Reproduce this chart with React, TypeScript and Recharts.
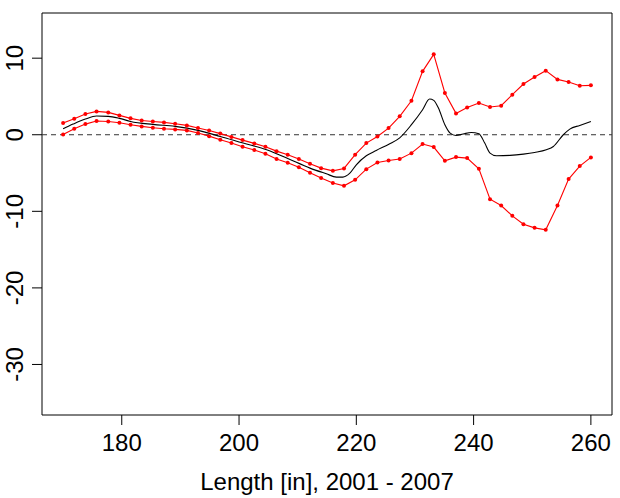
import React from "react";
import {
  LineChart,
  Line,
  XAxis,
  YAxis,
  ReferenceLine,
  ReferenceArea,
} from "recharts";

// positions along the length axis where the band was evaluated
const lengths = [
  170, 171.9, 173.8, 175.7, 177.7, 179.6, 181.5, 183.4, 185.3, 187.2, 189.1, 191.1,
  193.0, 194.9, 196.8, 198.7, 200.6, 202.6, 204.5, 206.4, 208.3, 210.2, 212.1, 214.0,
  216.0, 217.9, 219.8, 221.7, 223.6, 225.5, 227.4, 229.4, 231.3, 233.2, 235.1, 237.0,
  238.9, 240.9, 242.8, 244.7, 246.6, 248.5, 250.4, 252.3, 254.3, 256.2, 258.1, 260,
];

const upper = [
  1.53, 2.09, 2.7, 3.05, 2.92, 2.53, 2.14, 1.87, 1.74, 1.61, 1.44, 1.22,
  0.87, 0.55, 0.15, -0.28, -0.7, -1.13, -1.57, -2.14, -2.61, -3.18, -3.79, -4.36,
  -4.71, -4.4, -2.61, -1.09, -0.22, 0.87, 2.4, 4.44, 8.28, 10.5, 5.45, 2.79,
  3.57, 4.14, 3.62, 3.79, 5.23, 6.62, 7.54, 8.37, 7.23, 6.88, 6.4, 6.45,
];

const lower = [
  0.04, 0.78, 1.39, 1.79, 1.74, 1.57, 1.31, 1.09, 0.92, 0.78, 0.7, 0.57,
  0.22, -0.18, -0.65, -1.09, -1.57, -2.0, -2.48, -3.18, -3.66, -4.23, -4.97, -5.66,
  -6.31, -6.67, -5.88, -4.49, -3.62, -3.36, -3.16, -2.4, -1.22, -1.61, -3.4, -2.92,
  -3.05, -4.44, -8.41, -9.24, -10.59, -11.68, -12.16, -12.42, -9.24, -5.79, -4.09, -2.96,
];

// fitted curve, read at its turning points
const fitX = [
  170, 171.7, 173.8, 175.7, 177.7, 179.6, 181.5, 185.3, 189.1, 193.0, 196.8, 200.7,
  204.7, 208.4, 212.1, 214.9, 216.6, 217.7, 218.9, 220.0, 221.7, 223.4, 225.7, 227.4,
  229.4, 231.3, 232.5, 233.2, 234.0, 235.1, 236.0, 237.0, 238.2, 239.6, 240.9, 241.9,
  242.8, 243.9, 246.2, 248.5, 250.4, 252.4, 253.6, 255.3, 256.4, 258.1, 260,
];
const fitY = [
  0.78, 1.39, 2.05, 2.44, 2.4, 2.14, 1.74, 1.35, 1.09, 0.57, -0.22, -1.09,
  -1.96, -3.14, -4.36, -5.1, -5.53, -5.53, -5.01, -3.92, -2.75, -2.05, -1.18, -0.4,
  1.31, 3.27, 4.66, 4.49, 3.49, 1.31, 0.22, -0.09, 0.09, 0.3, 0.13, -1.09,
  -2.4, -2.75, -2.7, -2.53, -2.31, -1.96, -1.53, 0, 0.74, 1.22, 1.74,
];

const xTicks = [180, 200, 220, 240, 260];
const yTicks = [-30, -20, -10, 0, 10];

const xDomain = [166.4, 263.6];
const yDomain = [-36.6, 15.9];

const font = '"Liberation Sans", Arial, Helvetica, sans-serif';
const fontSize = 24;

const bandData = lengths.map((x, i) => ({ x, upper: upper[i], lower: lower[i] }));
const fitData = fitX.map((x, i) => ({ x, fit: fitY[i] }));

const XTick = (props: any) => {
  const { x, y, payload } = props;
  return (
    <text x={x} y={y + 24} textAnchor="middle" fontSize={fontSize} fontFamily={font} fill="#000">
      {payload.value}
    </text>
  );
};

const YTick = (props: any) => {
  const { y, payload } = props;
  const bx = 23;
  return (
    <text
      x={bx}
      y={y}
      transform={`rotate(-90, ${bx}, ${y})`}
      textAnchor="middle"
      fontSize={fontSize}
      fontFamily={font}
      fill="#000"
    >
      {payload.value}
    </text>
  );
};

export default function App() {
  return (
    <div style={{ position: "absolute", left: 0, top: 0, background: "#fff" }}>
      <LineChart
        width={620}
        height={498}
        data={bandData}
        margin={{ top: 13, right: 8, bottom: 0, left: 0 }}
      >
        <XAxis
          dataKey="x"
          type="number"
          domain={xDomain}
          ticks={xTicks}
          allowDataOverflow
          height={83}
          axisLine={false}
          tickLine={{ stroke: "#000" }}
          tickSize={10}
          tickMargin={2}
          tick={<XTick />}
          label={{
            value: "Length [in], 2001 - 2007",
            position: "insideBottom",
            offset: 8,
            fontSize: fontSize,
            fontFamily: font,
            fill: "#000",
          }}
        />
        <YAxis
          type="number"
          domain={yDomain}
          ticks={yTicks}
          allowDataOverflow
          width={42}
          axisLine={false}
          tickLine={{ stroke: "#000" }}
          tickSize={10}
          tick={<YTick />}
        />
        <ReferenceArea
          x1={xDomain[0]}
          x2={xDomain[1]}
          y1={yDomain[0]}
          y2={yDomain[1]}
          fill="none"
          fillOpacity={0}
          stroke="#000"
          strokeWidth={1}
        />
        <ReferenceLine y={0} stroke="#333" strokeDasharray="5 4" strokeWidth={1} />
        <Line
          dataKey="upper"
          stroke="#ff0000"
          strokeWidth={1.1}
          dot={{ r: 2, fill: "#ff0000", stroke: "none" }}
          isAnimationActive={false}
        />
        <Line
          dataKey="lower"
          stroke="#ff0000"
          strokeWidth={1.1}
          dot={{ r: 2, fill: "#ff0000", stroke: "none" }}
          isAnimationActive={false}
        />
        <Line
          data={fitData}
          dataKey="fit"
          type="monotone"
          stroke="#000"
          strokeWidth={1.1}
          dot={false}
          isAnimationActive={false}
        />
      </LineChart>
    </div>
  );
}
